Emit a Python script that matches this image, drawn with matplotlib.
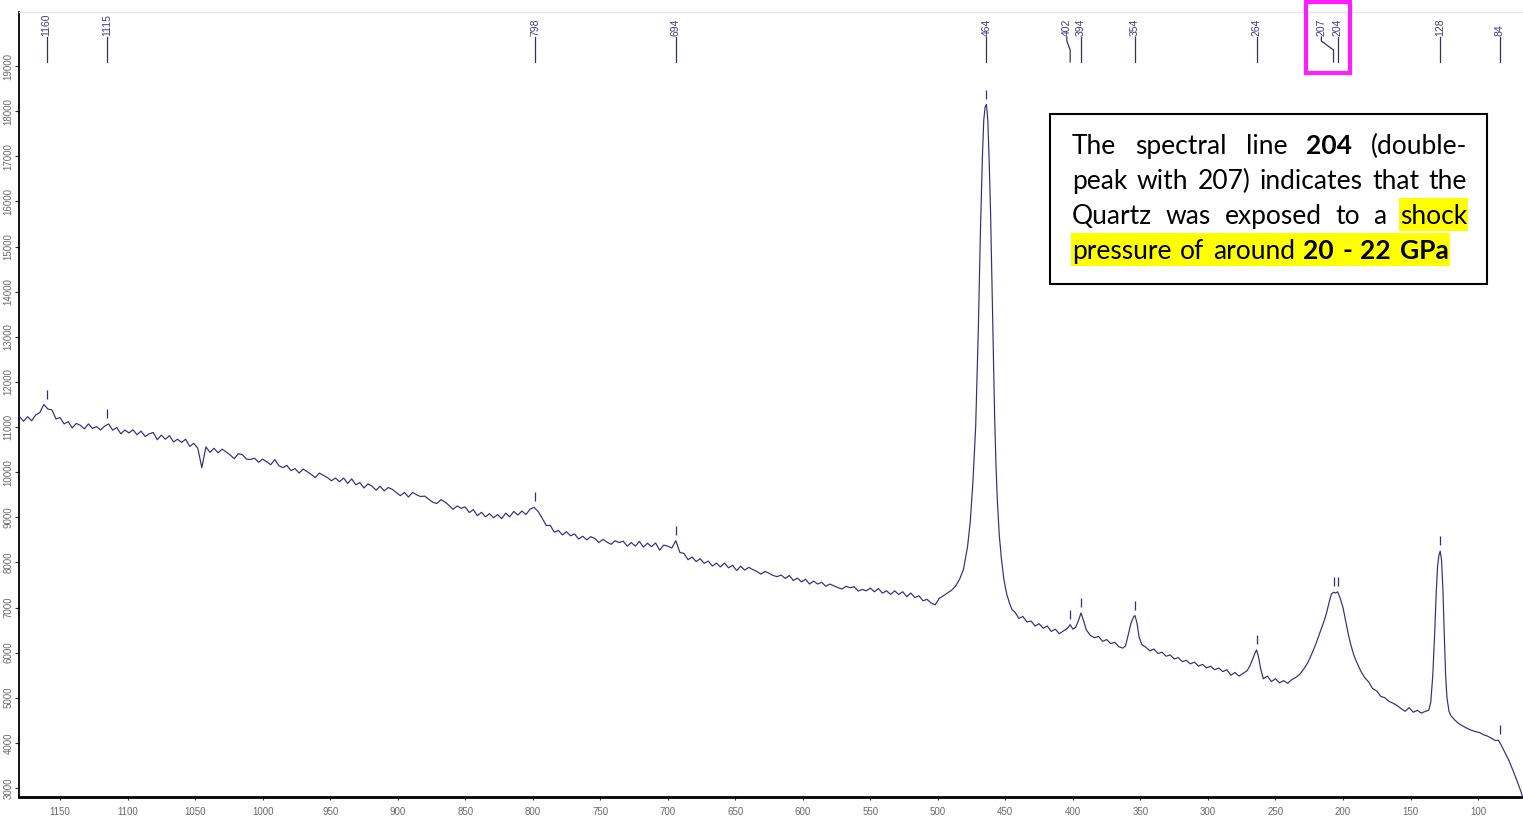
import matplotlib
matplotlib.use("Agg")
import matplotlib.pyplot as plt
from matplotlib.patches import Rectangle
from matplotlib.transforms import IdentityTransform, blended_transform_factory

# ---------------- data ----------------
# Raman shift (cm-1) and detector counts of the quartz spectrum
raman_shift = [
    1180, 1177, 1174, 1171, 1168, 1165, 1162, 1159, 1156, 1153,
    1150, 1147, 1144, 1141, 1138, 1135, 1132, 1129, 1126, 1123,
    1120, 1117, 1114, 1111, 1108, 1105, 1102, 1099, 1096, 1093,
    1090, 1087, 1084, 1081, 1078, 1075, 1072, 1069, 1066, 1063,
    1060, 1057, 1054, 1051, 1048, 1045, 1042, 1039, 1036, 1033,
    1030, 1027, 1024, 1021, 1018, 1015, 1012, 1009, 1006, 1003,
    1000, 997, 994, 991, 988, 985, 982, 979, 976, 973,
    970, 967, 964, 961, 958, 955, 952, 949, 946, 943,
    940, 937, 934, 931, 928, 925, 922, 919, 916, 913,
    910, 907, 904, 901, 898, 895, 892, 889, 886, 883,
    880, 877, 874, 871, 868, 865, 862, 859, 856, 853,
    850, 847, 844, 841, 838, 835, 832, 829, 826, 823,
    820, 817, 814, 811, 808, 805, 802, 799, 796, 793,
    790, 787, 784, 781, 778, 775, 772, 769, 766, 763,
    760, 757, 754, 751, 748, 745, 742, 739, 736, 733,
    730, 727, 724, 721, 718, 715, 712, 709, 706, 703,
    700, 697, 694, 691, 688, 685, 682, 679, 676, 673,
    670, 667, 664, 661, 658, 655, 652, 649, 646, 643,
    640, 637, 634, 631, 628, 625, 622, 619, 616, 613,
    610, 607, 604, 601, 598, 595, 592, 589, 586, 583,
    580, 577, 574, 571, 568, 565, 562, 559, 556, 553,
    550, 547, 544, 541, 538, 535, 532, 529, 526, 523,
    520, 517, 514, 511,
    508, 505, 502, 499, 496, 493, 490, 487, 484, 481,
    478, 476, 474, 472, 470, 468.5, 467, 466, 465, 464,
    463, 462, 461, 460, 459, 458, 457, 456, 454.5, 453,
    451, 449, 447, 445, 443, 440, 437, 434, 431, 428,
    425, 422, 419, 416, 413, 410, 407, 404, 402, 400,
    398, 396, 394, 392, 390, 387, 384, 381, 378, 375,
    372, 369, 366, 363, 361, 359, 357, 355, 354, 352.5,
    351, 349, 346, 343, 340, 337, 334, 331, 328, 325,
    322, 319, 316, 313, 310, 307, 304, 301, 298, 295,
    292, 289, 286, 283, 280, 277, 274, 271, 269, 267,
    265, 264, 262.5, 261, 259, 256, 253, 250, 247, 244,
    241, 238, 235, 232, 229, 226, 223, 220, 217, 214,
    212, 210, 208.5, 207, 205.5, 204, 202, 200, 198, 196,
    194, 192, 190, 187, 184, 181, 178, 175, 172, 169,
    166, 163, 160, 157, 154, 151, 148, 145, 142, 139,
    136.5, 135, 133.5, 132, 131, 130, 129, 128, 127, 126,
    125, 124, 123, 121.5, 120, 117, 114, 111, 108, 105,
    102, 99, 96, 93, 90, 87, 85, 83, 80, 77,
    74, 71, 68, 67,
]
intensity = [
    11230, 11130, 11230, 11140, 11270, 11320, 11500, 11400, 11380, 11180,
    11210, 11070, 11120, 10980, 11080, 11040, 10960, 11070, 10970, 11010,
    10935, 11020, 11070, 10930, 10990, 10850, 10935, 10870, 10940, 10830,
    10910, 10790, 10850, 10880, 10720, 10820, 10730, 10810, 10670, 10730,
    10660, 10730, 10570, 10640, 10530, 10100, 10560, 10440, 10530, 10430,
    10510, 10450, 10380, 10300, 10410, 10390, 10290, 10280, 10310, 10220,
    10290, 10230, 10165, 10280, 10145, 10100, 10150, 10035, 10080, 9980,
    10070, 10010, 9950, 9880, 9980, 9930, 9880, 9810, 9870, 9790,
    9870, 9750, 9850, 9720, 9770, 9650, 9740, 9690, 9600, 9690,
    9585, 9660, 9620, 9550, 9480, 9550, 9450, 9550, 9500, 9460,
    9470, 9400, 9335, 9305, 9390, 9340, 9265, 9175, 9250, 9200,
    9230, 9105, 9170, 9035, 9110, 9010, 9080, 8990, 9060, 8970,
    9090, 9010, 9130, 9050, 9140, 9060, 9180, 9220, 9130, 8980,
    8820, 8820, 8670, 8710, 8610, 8680, 8590, 8630, 8520, 8580,
    8500, 8570, 8530, 8440, 8510, 8450, 8400, 8480, 8440, 8470,
    8360, 8440, 8360, 8465, 8340, 8425, 8350, 8430, 8270, 8385,
    8360, 8320, 8480, 8220, 8200, 8060, 8120, 8020, 8080, 7980,
    8030, 7920, 7985, 7900, 7985, 7880, 7935, 7820, 7915, 7830,
    7890, 7840, 7800, 7740, 7800, 7760, 7710, 7685, 7720, 7645,
    7710, 7600, 7650, 7570, 7625, 7520, 7585, 7520, 7560, 7470,
    7520, 7480, 7440, 7410, 7470, 7440, 7460, 7365, 7400, 7370,
    7430, 7350, 7420, 7320, 7370, 7290, 7370, 7290, 7350, 7240,
    7320, 7220, 7260, 7150,
    7180, 7100, 7060, 7200, 7260, 7320, 7380, 7470, 7620, 7850,
    8350, 8900, 9800, 11000, 13200, 15300, 17000, 17800, 18100, 18150,
    17800, 16900, 15800, 14300, 12700, 11300, 10200, 9400, 8600, 8100,
    7600, 7300, 7100, 6950, 6900, 6760, 6800, 6680, 6700, 6590,
    6640, 6540, 6590, 6470, 6520, 6420, 6480, 6540, 6620, 6520,
    6560, 6700, 6880, 6700, 6500, 6380, 6330, 6360, 6250, 6290,
    6200, 6230, 6130, 6100, 6150, 6400, 6650, 6800, 6820, 6650,
    6350, 6180, 6120, 6040, 6080, 5980, 6010, 5920, 5950, 5860,
    5890, 5800, 5830, 5750, 5790, 5700, 5740, 5660, 5700, 5620,
    5660, 5580, 5620, 5500, 5560, 5480, 5540, 5600, 5700, 5850,
    6000, 6060, 5900, 5650, 5420, 5480, 5360, 5420, 5330, 5380,
    5320, 5400, 5450, 5520, 5640, 5780, 5980, 6200, 6450, 6700,
    6900, 7150, 7300, 7340, 7320, 7350, 7200, 7000, 6700, 6400,
    6150, 5950, 5800, 5600, 5450, 5350, 5200, 5150, 5030, 5000,
    4920, 4880, 4830, 4760, 4700, 4780, 4680, 4720, 4660, 4700,
    4720, 4900, 5500, 6500, 7300, 7900, 8150, 8250, 8050, 7400,
    6400, 5500, 5000, 4700, 4600, 4500, 4420, 4370, 4320, 4280,
    4250, 4230, 4180, 4150, 4100, 4050, 4060, 3960, 3780, 3600,
    3380, 3150, 2900, 2800,
]

# picked peaks: position, label and counts at the peak
peak_pos = [1160, 1115, 798, 694, 464, 402, 394, 354, 264, 207, 204, 128, 84]
peak_labels = ["1160", "1115", "798", "694", "464", "402", "394", "354",
               "264", "207", "204", "128", "84"]
peak_counts = [11500, 11070, 9220, 8480, 18150, 6620, 6880, 6820, 6060,
               7340, 7350, 8250, 4060]
# where each label sits when neighbours would overlap
label_pos = [1160, 1115, 798, 694, 464, 404.5, 394, 354, 264, 216, 204, 128, 84]

x_ticks = list(range(100, 1151, 50))
y_ticks = list(range(3000, 19001, 1000))

note_lines = [
    [("The", "normal", False), ("spectral", "normal", False), ("line", "normal", False),
     ("204", "bold", False), ("(double-", "normal", False)],
    [("peak", "normal", False), ("with", "normal", False), ("207)", "normal", False),
     ("indicates", "normal", False), ("that", "normal", False), ("the", "normal", False)],
    [("Quartz", "normal", False), ("was", "normal", False), ("exposed", "normal", False),
     ("to", "normal", False), ("a", "normal", False), ("shock", "normal", True)],
    [("pressure", "normal", True), ("of", "normal", True), ("around", "normal", True),
     ("20", "bold", True), ("-", "bold", True), ("22", "bold", True), ("GPa", "bold", True)],
]

# ---------------- figure ----------------
W, H = 1523, 818
LINE = "#2e2e7e"
TICK_TXT = "#6a6a6a"
fig = plt.figure(figsize=(W / 100, H / 100), dpi=100, facecolor="white")
ax = fig.add_axes([19 / W, 1 - 797 / H, 1 - 19 / W, (797 - 12) / H])

ax.plot(raman_shift, intensity, color=LINE, lw=0.85, zorder=3)
ax.vlines(peak_pos, [c + 130 for c in peak_counts], [c + 330 for c in peak_counts],
          color=LINE, lw=0.9, zorder=3)

ax.set_xlim(1180.4, 66.7)
ax.set_ylim(2800, 20200)
ax.set_xticks(x_ticks)
ax.set_yticks(y_ticks)
ax.set_xticklabels([str(v) for v in x_ticks], fontsize=7, color=TICK_TXT,
                   family="Liberation Sans")
ax.set_yticklabels([str(v) for v in y_ticks], fontsize=7, color=TICK_TXT,
                   family="Liberation Sans", rotation=90, va="center")
ax.tick_params(axis="x", length=2, pad=5, color="#333333")
ax.tick_params(axis="y", length=3, pad=1, color="#333333")

ax.spines["right"].set_visible(False)
ax.spines["top"].set_color("#e3e5ef")
ax.spines["top"].set_linewidth(1.0)
ax.spines["left"].set_color("black")
ax.spines["left"].set_linewidth(1.3)
ax.spines["bottom"].set_color("black")
ax.spines["bottom"].set_linewidth(2.0)

# peak labels along the top edge
blend = blended_transform_factory(ax.transData, ax.transAxes)


def ay(py):
    return 1 - (py - 12) / 785


for pos, lab, lpos in zip(peak_pos, peak_labels, label_pos):
    if abs(lpos - pos) > 0.1:
        ax.plot([lpos, lpos, pos, pos], [ay(37), ay(41), ay(50), ay(62)],
                color="#333355", lw=0.9, transform=blend, clip_on=False)
    else:
        ax.plot([pos, pos], [ay(37), ay(62)], color="#333355", lw=0.9,
                transform=blend, clip_on=False)
    ax.text(lpos, ay(36), lab, rotation=90, ha="center", va="bottom",
            fontsize=7.5, color="#3c3c8c", family="Liberation Sans",
            transform=blend, clip_on=False)

# magenta frame around the 207/204 pair
fig.add_artist(Rectangle((1306, H - 73), 44, 71.5, transform=IdentityTransform(),
                         fill=False, edgecolor="#ff1eff", lw=3, zorder=10))

# ---------------- note box with justified text ----------------
box_l, box_t, box_r, box_b = 1050, 114, 1487, 284
fig.add_artist(Rectangle((box_l, H - box_b), box_r - box_l, box_b - box_t,
                         transform=IdentityTransform(), facecolor="white",
                         edgecolor="black", lw=1.5, zorder=8))

renderer = fig.canvas.get_renderer()
FONT = ["Lato", "DejaVu Sans"]
text_l, text_r = 1072, 1467
baselines = [154, 189, 224, 259]


def measure(word, weight, size):
    t = fig.text(0, 0, word, fontsize=size, fontweight=weight, family=FONT,
                 transform=IdentityTransform())
    w = t.get_window_extent(renderer).width
    t.remove()
    return w


size = 19.0
while True:
    sp = measure("a a", "normal", size) - 2 * measure("a", "normal", size)
    widest = max(sum(measure(w, wt, size) for w, wt, _ in line) + 0.55 * sp * (len(line) - 1)
                 for line in note_lines[:-1])
    if widest <= text_r - text_l or size < 10:
        break
    size -= 0.25

space = measure("a a", "normal", size) - 2 * measure("a", "normal", size)

for i, (line, base) in enumerate(zip(note_lines, baselines)):
    widths = [measure(w, wt, size) for w, wt, _ in line]
    last = i == len(note_lines) - 1
    gap = space * 1.25 if last else (text_r - text_l - sum(widths)) / (len(line) - 1)
    x = text_l
    prev_hl_end = None
    for (word, weight, hl), w in zip(line, widths):
        if hl:
            start = prev_hl_end if prev_hl_end is not None else x - 1
            fig.add_artist(Rectangle((start, H - base - 7), x + w + 1 - start, 33,
                                     transform=IdentityTransform(), facecolor="#ffff00",
                                     edgecolor="none", zorder=8.5))
            prev_hl_end = x + w + 1
        else:
            prev_hl_end = None
        fig.text(x, H - base, word, fontsize=size, fontweight=weight, family=FONT,
                 color="black", ha="left", va="baseline", transform=IdentityTransform(),
                 zorder=9)
        x += w + gap

fig.savefig("out.png", dpi=100, facecolor="white")
